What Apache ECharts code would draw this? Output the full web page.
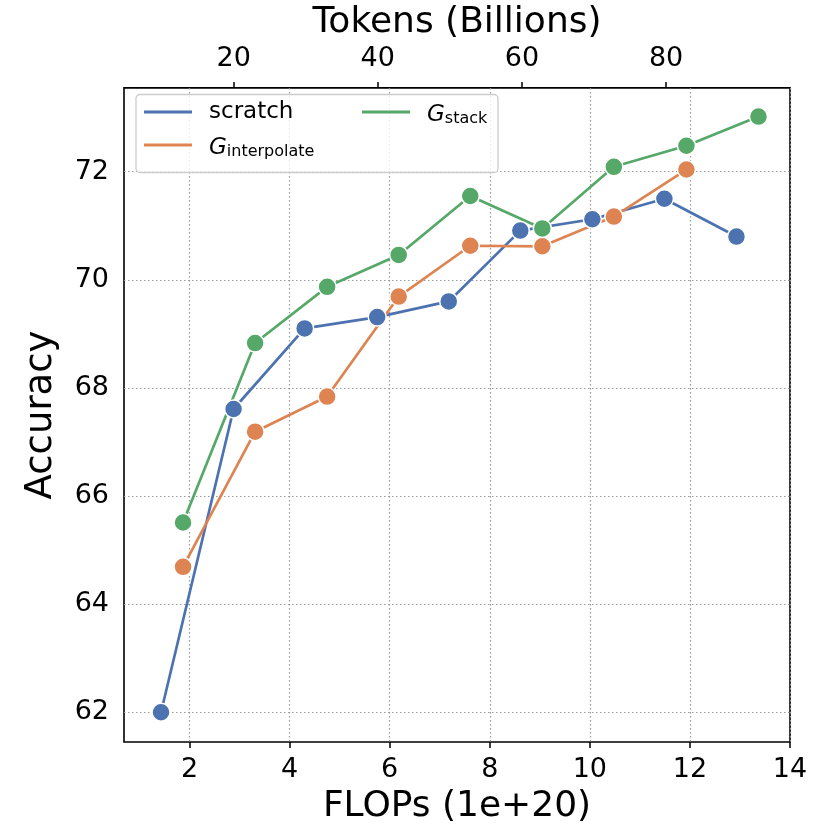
<!DOCTYPE html>
<html>
<head>
<meta charset="utf-8">
<script src="https://cdn.jsdelivr.net/npm/echarts@6/dist/echarts.min.js"></script>
<style>
html,body{margin:0;padding:0;background:#fff;}
#chart{width:830px;height:830px;}
</style>
</head>
<body>
<div id="chart"></div>
<script>
// ---- data ----
const seriesNames = ['scratch', 'G_interpolate', 'G_stack'];
const flopsScratch = [1.43, 2.88, 4.30, 5.75, 7.18, 8.61, 10.05, 11.49, 12.93];
const accScratch   = [62.00, 67.61, 69.10, 69.31, 69.60, 70.91, 71.12, 71.50, 70.80];
const flopsInterp  = [1.87, 3.31, 4.75, 6.18, 7.61, 9.05, 10.48, 11.93];
const accInterp    = [64.69, 67.19, 67.84, 69.69, 70.63, 70.62, 71.17, 72.04];
const flopsStack   = [1.87, 3.31, 4.75, 6.18, 7.61, 9.05, 10.48, 11.93, 13.37];
const accStack     = [65.51, 68.83, 69.87, 70.46, 71.55, 70.95, 72.09, 72.48, 73.02];
const flopsTicks   = [2, 4, 6, 8, 10, 12, 14];
const tokenTicks   = [20, 40, 60, 80];
const accTicks     = [62, 64, 66, 68, 70, 72];
const colors = ['#4C72B0', '#DD8452', '#55A868'];

const FONT = 'DejaVu Sans';
const zip = (xs, ys) => xs.map((x, i) => [x, ys[i]]);

const chart = echarts.init(document.getElementById('chart'), null, {renderer: 'canvas'});

function mkSeries(name, xs, ys, color) {
  return {
    name: name, type: 'line', data: zip(xs, ys),
    xAxisIndex: 0, yAxisIndex: 0,
    symbol: 'circle', symbolSize: 18, showSymbol: true,
    lineStyle: {color: color, width: 2.7},
    itemStyle: {color: color, borderColor: '#fff', borderWidth: 1.5},
    emphasis: {disabled: true},
    z: 2
  };
}

const legendRich = {
  g: {fontFamily: FONT, fontSize: 23, fontStyle: 'italic', color: '#000', lineHeight: 30, verticalAlign: 'bottom'},
  s: {fontFamily: FONT, fontSize: 16, color: '#000', lineHeight: 18, verticalAlign: 'bottom'}
};
function legendFmt(name) {
  if (name.indexOf('G_') === 0) return '{g|G}{s|' + name.slice(2) + '}';
  return name;
}
function mkLegend(name, color, left, top) {
  return {
    data: [{name: name, icon: 'rect', itemStyle: {color: color, borderWidth: 0, opacity: 1}}],
    left: left, top: top, orient: 'vertical', padding: 0,
    itemWidth: 48, itemHeight: 3,
    itemStyle: {borderWidth: 0},
    selectedMode: false, z: 10,
    formatter: legendFmt,
    textStyle: {fontFamily: FONT, fontSize: 23, color: '#000', lineHeight: 30, padding: [0, 0, 0, 12], rich: legendRich}
  };
}

const option = {
  animation: false,
  backgroundColor: '#fff',
  color: colors,
  grid: {left: 124, right: 40, top: 82.5, bottom: 83.5, show: true, borderColor: '#000', borderWidth: 1.6, backgroundColor: 'transparent'},
  graphic: [{
    type: 'rect', z: 5,
    shape: {x: 136, y: 94.5, width: 362, height: 78, r: 4},
    style: {fill: 'rgba(255,255,255,0.8)', stroke: '#cccccc', lineWidth: 1.3}
  }],
  legend: [
    mkLegend(seriesNames[0], colors[0], 144, 97),
    mkLegend(seriesNames[1], colors[1], 144, 130),
    mkLegend(seriesNames[2], colors[2], 362, 97)
  ],
  xAxis: [{
    type: 'value', position: 'bottom', min: 0.69, max: 14,
    name: 'FLOPs (1e+20)', nameLocation: 'middle', nameGap: 47,
    nameTextStyle: {fontFamily: FONT, fontSize: 36, color: '#000'},
    axisLine: {show: false},
    axisTick: {show: true, length: 6, inside: false, lineStyle: {color: '#000', width: 1.5}, customValues: flopsTicks},
    axisLabel: {show: true, margin: 14, fontFamily: FONT, fontSize: 27, color: '#000', customValues: flopsTicks},
    splitLine: {show: true, lineStyle: {color: '#9a9a9a', width: 1.2, type: [1.5, 2.5]}}
  }, {
    type: 'value', position: 'top', min: 4.79, max: 97.19,
    name: 'Tokens (Billions)', nameLocation: 'middle', nameGap: 45,
    nameTextStyle: {fontFamily: FONT, fontSize: 36, color: '#000'},
    axisLine: {show: false},
    axisTick: {show: true, length: 6, inside: false, lineStyle: {color: '#000', width: 1.5}, customValues: tokenTicks},
    axisLabel: {show: true, margin: 15, fontFamily: FONT, fontSize: 27, color: '#000', customValues: tokenTicks},
    splitLine: {show: false}
  }],
  yAxis: [{
    type: 'value', min: 61.45, max: 73.55,
    name: 'Accuracy', nameLocation: 'middle', nameGap: 64,
    nameTextStyle: {fontFamily: FONT, fontSize: 37, color: '#000'},
    axisLine: {show: false},
    axisTick: {show: false, customValues: accTicks},
    axisLabel: {show: true, margin: 15, fontFamily: FONT, fontSize: 27, color: '#000', customValues: accTicks},
    splitLine: {show: true, lineStyle: {color: '#9a9a9a', width: 1.2, type: [1.5, 2.5]}}
  }],
  series: [
    mkSeries(seriesNames[0], flopsScratch, accScratch, colors[0]),
    mkSeries(seriesNames[1], flopsInterp, accInterp, colors[1]),
    mkSeries(seriesNames[2], flopsStack, accStack, colors[2])
  ]
};
chart.setOption(option);
</script>
</body>
</html>
